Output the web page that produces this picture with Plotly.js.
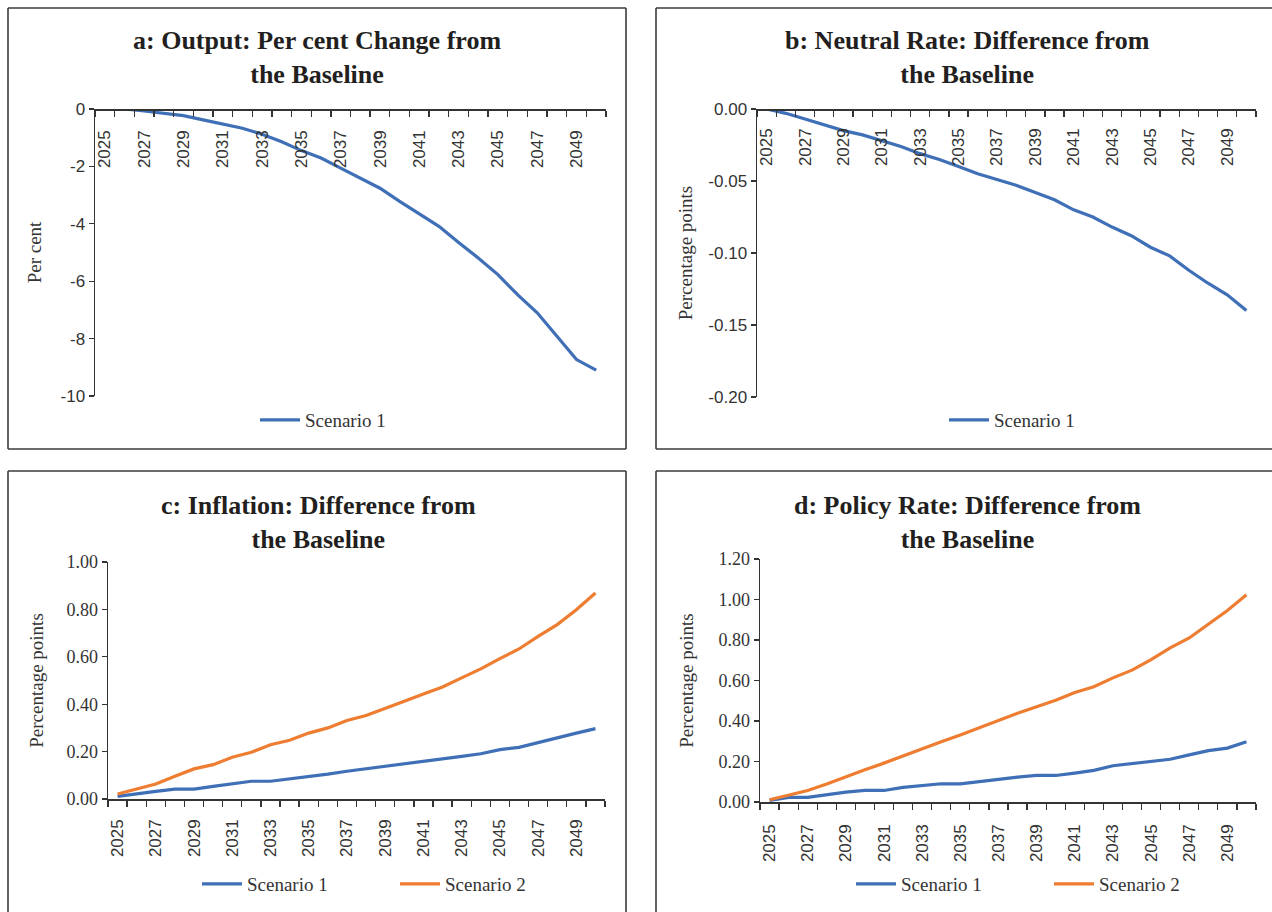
<!DOCTYPE html>
<html>
<head>
<meta charset="utf-8">
<script src="https://cdn.plot.ly/plotly-3.0.1.min.js"></script>
<style>
  html, body { margin: 0; padding: 0; background: #ffffff; }
  #chart { width: 1272px; height: 912px; }
</style>
</head>
<body>
<div id="chart"></div>
<script>
// ---------------- data ----------------
const years = [2025, 2026, 2027, 2028, 2029, 2030, 2031, 2032, 2033, 2034, 2035, 2036, 2037,
               2038, 2039, 2040, 2041, 2042, 2043, 2044, 2045, 2046, 2047, 2048, 2049, 2050];
const yearTicks = [2025, 2027, 2029, 2031, 2033, 2035, 2037, 2039, 2041, 2043, 2045, 2047, 2049];

const outputScenario1 = [0, 0, -0.07, -0.15, -0.23, -0.38, -0.53, -0.67, -0.88, -1.14, -1.45, -1.71, -2.06,
                         -2.41, -2.76, -3.22, -3.66, -4.09, -4.65, -5.19, -5.77, -6.47, -7.10, -7.91, -8.73, -9.10];
const neutralScenario1 = [0.000, -0.003, -0.007, -0.011, -0.015, -0.018, -0.022, -0.026, -0.031, -0.035, -0.040, -0.045, -0.049,
                          -0.053, -0.058, -0.063, -0.070, -0.075, -0.082, -0.088, -0.096, -0.102, -0.112, -0.121, -0.129, -0.140];
const inflationScenario1 = [0.011, 0.023, 0.032, 0.042, 0.042, 0.053, 0.065, 0.075, 0.075, 0.084, 0.096, 0.105, 0.117,
                            0.127, 0.138, 0.148, 0.159, 0.170, 0.180, 0.191, 0.208, 0.218, 0.239, 0.257, 0.278, 0.297];
const inflationScenario2 = [0.021, 0.042, 0.063, 0.096, 0.127, 0.145, 0.176, 0.197, 0.229, 0.248, 0.278, 0.300, 0.331,
                            0.352, 0.381, 0.412, 0.443, 0.473, 0.511, 0.549, 0.592, 0.633, 0.686, 0.736, 0.799, 0.869];
const policyScenario1 = [0.008, 0.023, 0.023, 0.036, 0.049, 0.057, 0.057, 0.072, 0.082, 0.090, 0.090, 0.102, 0.113,
                         0.123, 0.131, 0.131, 0.143, 0.156, 0.179, 0.189, 0.200, 0.211, 0.233, 0.254, 0.266, 0.298];
const policyScenario2 = [0.011, 0.036, 0.057, 0.089, 0.126, 0.159, 0.192, 0.228, 0.261, 0.298, 0.331, 0.367, 0.405,
                         0.438, 0.470, 0.503, 0.541, 0.569, 0.613, 0.651, 0.703, 0.761, 0.810, 0.877, 0.946, 1.023];

const yTicksA = [0, -2, -4, -6, -8, -10];
const yTicksB = [0, -0.05, -0.10, -0.15, -0.20];
const yTicksC = [0, 0.2, 0.4, 0.6, 0.8, 1.0];
const yTicksD = [0, 0.2, 0.4, 0.6, 0.8, 1.0, 1.2];

const panelTitles = [
  'a: Output: Per cent Change from<br>the Baseline',
  'b: Neutral Rate: Difference from<br>the Baseline',
  'c: Inflation: Difference from<br>the Baseline',
  'd: Policy Rate: Difference from<br>the Baseline'
];
const seriesNames = ['Scenario 1', 'Scenario 2'];
const yTitles = ['Per cent', 'Percentage points'];

// ---------------- styling ----------------
const W = 1272, H = 912;
const px = v => v / W;
const py = v => 1 - v / H;
const BLUE = '#3F6FB6', ORANGE = '#EE7D31', AXIS = '#333333', TEXT = '#333333';
const SERIF = 'Liberation Serif, Times New Roman, serif';
const SANS = 'Liberation Sans, Arial, sans-serif';

const minorVals = years.map(y => y - 0.5).concat([years[years.length - 1] + 0.5]);

function xAxis(domain, standoff, extra) {
  return Object.assign({
    domain: domain,
    range: [years[0] - 0.5, years[years.length - 1] + 0.5],
    tickmode: 'array',
    tickvals: yearTicks,
    ticktext: yearTicks.map(String),
    ticks: '',
    tickangle: -90,
    ticklabelstandoff: standoff,
    tickfont: { family: SANS, size: 17, color: TEXT },
    showline: true, linecolor: AXIS, linewidth: 1.5,
    showgrid: false, zeroline: false,
    minor: { tickmode: 'array', tickvals: minorVals, ticks: 'outside', ticklen: 6, tickwidth: 1.3, tickcolor: AXIS, showgrid: false },
    fixedrange: true
  }, extra);
}
function yAxis(domain, range, ticks, text, font, title, standoff, anchor) {
  return {
    domain: domain, range: range, anchor: anchor,
    tickmode: 'array', tickvals: ticks, ticktext: text,
    ticks: 'outside', ticklen: 5, tickwidth: 1.3, tickcolor: AXIS,
    tickfont: Object.assign({ color: TEXT }, font),
    showline: true, linecolor: AXIS, linewidth: 1.5,
    showgrid: false, zeroline: false,
    title: { text: title, font: { family: SERIF, size: 19, color: TEXT }, standoff: standoff },
    automargin: false, fixedrange: true
  };
}

const domA = { x: [px(95), px(606)], y: [py(396), py(109)] };
const domB = { x: [px(757), px(1256)], y: [py(397), py(109)] };
const domC = { x: [px(108), px(605)], y: [py(799), py(562)] };
const domD = { x: [px(760), px(1256)], y: [py(802), py(559)] };

const traces = [
  { x: years, y: outputScenario1, name: seriesNames[0], xaxis: 'x', yaxis: 'y', legend: 'legend',
    mode: 'lines', line: { color: BLUE, width: 3.2 } },
  { x: years, y: neutralScenario1, name: seriesNames[0], xaxis: 'x2', yaxis: 'y2', legend: 'legend2',
    mode: 'lines', line: { color: BLUE, width: 3.2 } },
  { x: years, y: inflationScenario1, name: seriesNames[0], xaxis: 'x3', yaxis: 'y3', legend: 'legend3',
    mode: 'lines', line: { color: BLUE, width: 3.2 } },
  { x: years, y: inflationScenario2, name: seriesNames[1], xaxis: 'x3', yaxis: 'y3', legend: 'legend3',
    mode: 'lines', line: { color: ORANGE, width: 3.2 } },
  { x: years, y: policyScenario1, name: seriesNames[0], xaxis: 'x4', yaxis: 'y4', legend: 'legend4',
    mode: 'lines', line: { color: BLUE, width: 3.2 } },
  { x: years, y: policyScenario2, name: seriesNames[1], xaxis: 'x4', yaxis: 'y4', legend: 'legend4',
    mode: 'lines', line: { color: ORANGE, width: 3.2 } }
];

function legendAt(xpx, ypx) {
  return {
    x: px(xpx), y: py(ypx), xanchor: 'left', yanchor: 'middle',
    orientation: 'h', bgcolor: 'rgba(0,0,0,0)', borderwidth: 0,
    font: { family: SERIF, size: 19, color: TEXT },
    itemwidth: 40,
    entrywidth: 143, entrywidthmode: 'pixels', itemclick: false, itemdoubleclick: false
  };
}

const border = (x0, y0, x1, y1) => ({ type: 'line', xref: 'paper', yref: 'paper',
  x0: px(x0), y0: py(y0), x1: px(x1), y1: py(y1), line: { color: '#3a3a3a', width: 1.6 } });

const shapes = [
  // panel a
  border(8, 8, 626, 8), border(8, 8, 8, 449), border(626, 8, 626, 449), border(8, 449, 626, 449),
  // panel b
  border(656, 8, 1272, 8), border(656, 8, 656, 449), border(656, 449, 1272, 449),
  // panel c
  border(8, 471, 626, 471), border(8, 471, 8, 912), border(626, 471, 626, 912),
  // panel d
  border(656, 471, 1272, 471), border(656, 471, 656, 912)
];

const titleFont = { family: SERIF, size: 26, color: '#231F20' };
const titlePos = [[317, 57], [967, 57], [318, 522], [967, 522]];
const annotations = panelTitles.map((t, i) => ({
  text: '<b>' + t.replace('<br>', '</b><br><b>') + '</b>',
  xref: 'paper', yref: 'paper', x: px(titlePos[i][0]), y: py(titlePos[i][1]),
  xanchor: 'center', yanchor: 'middle', showarrow: false, align: 'center', font: titleFont
}));

const sansTick = { family: SANS, size: 17 };
const serifTick = { family: SERIF, size: 18 };

const layout = {
  width: W, height: H,
  margin: { l: 0, r: 0, t: 0, b: 0 },
  paper_bgcolor: '#ffffff', plot_bgcolor: 'rgba(0,0,0,0)',
  showlegend: true,
  xaxis: xAxis(domA.x, 13, { anchor: 'free', position: domA.y[1], side: 'bottom' }),
  yaxis: yAxis(domA.y, [-10, 0], yTicksA, yTicksA.map(String), sansTick, yTitles[0], 14, 'x'),
  xaxis2: xAxis(domB.x, 11, { anchor: 'free', position: domB.y[1], side: 'bottom' }),
  yaxis2: yAxis(domB.y, [-0.2, 0], yTicksB, yTicksB.map(v => v.toFixed(2)), sansTick, yTitles[1], 10, 'x2'),
  xaxis3: xAxis(domC.x, 12, { anchor: 'y3' }),
  yaxis3: yAxis(domC.y, [0, 1], yTicksC, yTicksC.map(v => v.toFixed(2)), serifTick, yTitles[1], 18, 'x3'),
  xaxis4: xAxis(domD.x, 14, { anchor: 'y4' }),
  yaxis4: yAxis(domD.y, [0, 1.2], yTicksD, yTicksD.map(v => v.toFixed(2)), serifTick, yTitles[1], 20, 'x4'),
  legend: legendAt(255, 420),
  legend2: legendAt(944, 420),
  legend3: legendAt(197, 884),
  legend4: legendAt(851, 884),
  shapes: shapes,
  annotations: annotations
};

Plotly.newPlot('chart', traces, layout, { displayModeBar: false, staticPlot: true });
</script>
</body>
</html>
